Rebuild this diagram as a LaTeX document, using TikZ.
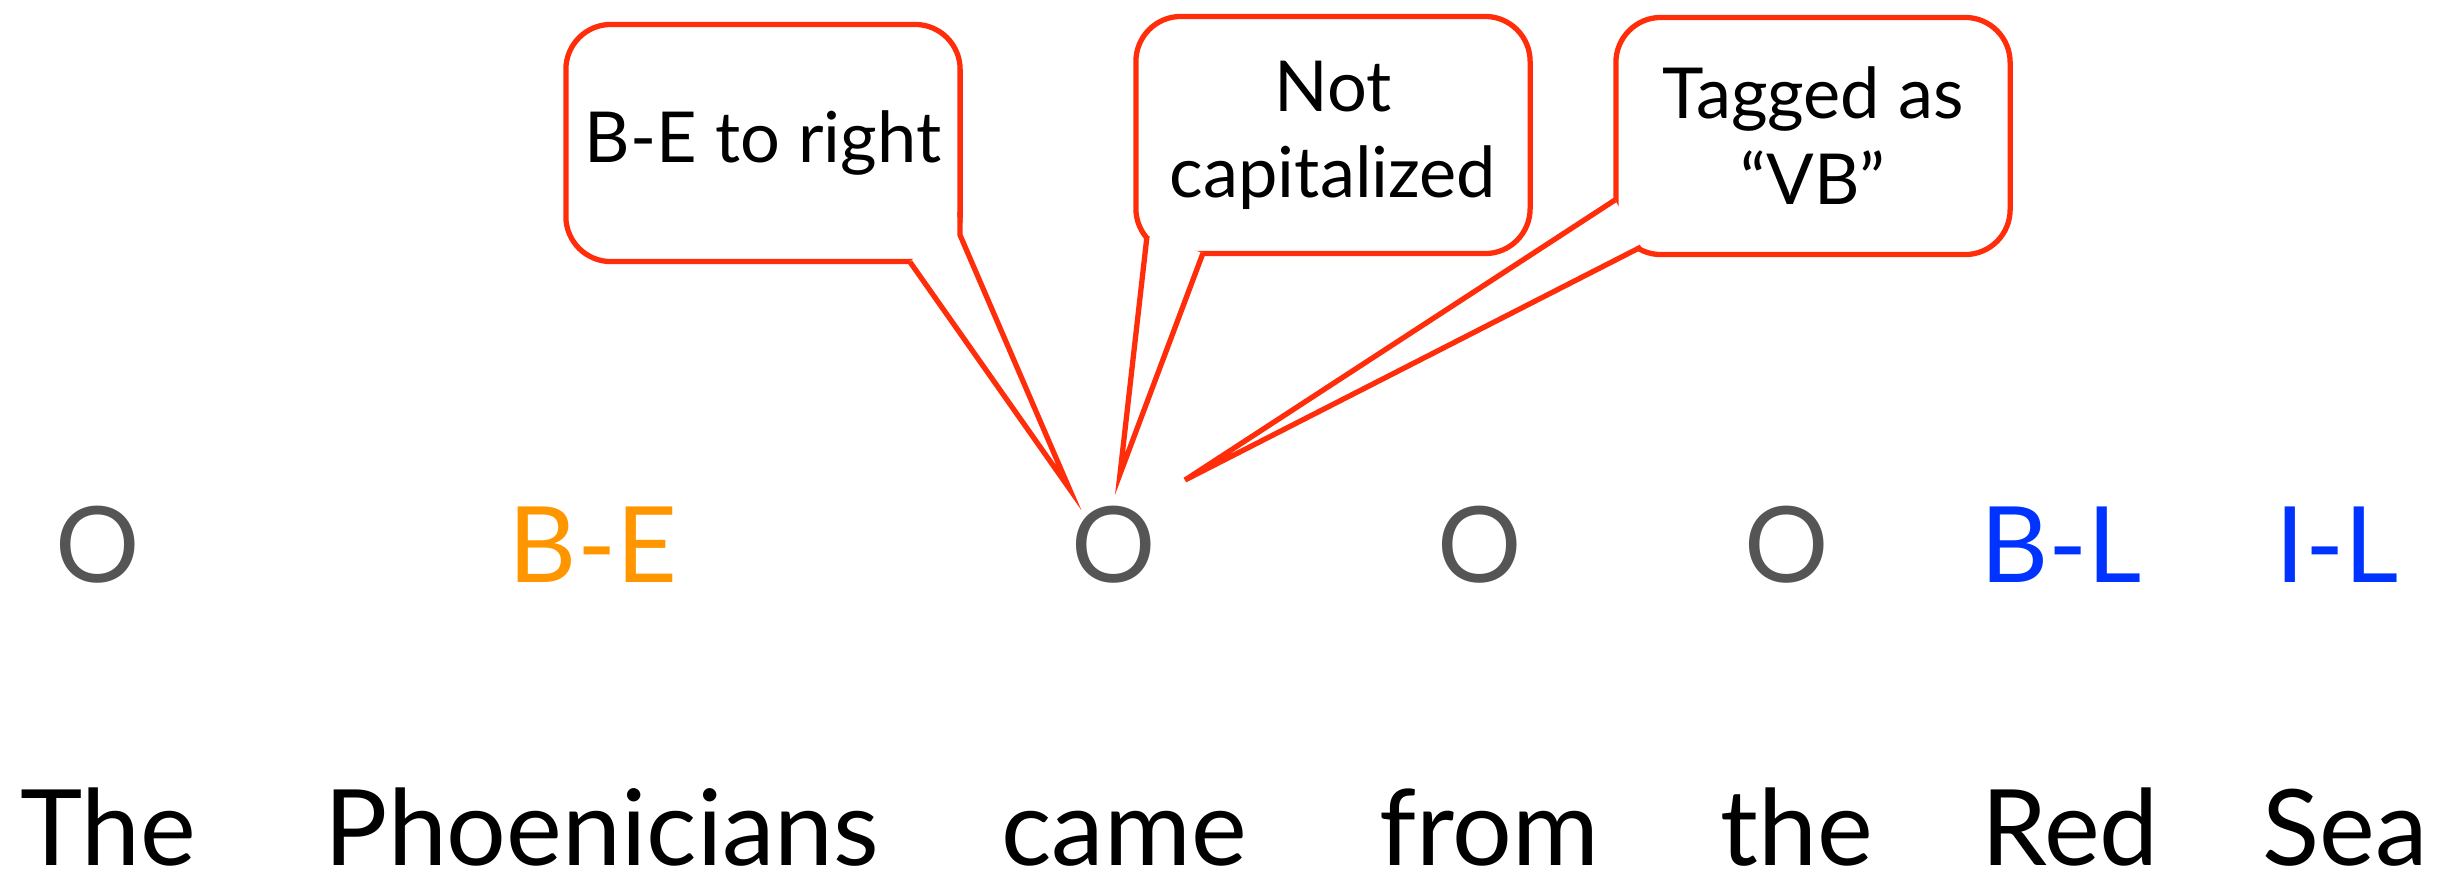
\documentclass[tikz,border=0pt]{standalone}
\usepackage{fontspec}
\setmainfont{Lato}
\usetikzlibrary{calc}
\definecolor{TagGray}{RGB}{85,85,85}
\definecolor{EntOrange}{RGB}{255,150,0}
\definecolor{LocBlue}{RGB}{0,51,255}
\definecolor{NoteRed}{RGB}{255,45,10}

\begin{document}
\begin{tikzpicture}[x=0.01cm,y=-0.01cm,
  word/.style={anchor=base,inner sep=0pt,font=\fontsize{30}{36}\selectfont},
  tag/.style={anchor=base,inner sep=0pt,font=\fontsize{30}{36}\selectfont},
  note/.style={draw=NoteRed,line width=1.5pt,fill=white,rounded corners=12.8pt,
    minimum width=3.94cm,minimum height=2.37cm,align=center,
    font=\fontsize{20}{24.5}\selectfont},
  tail/.style={draw=NoteRed,line width=1.5pt,line join=miter}]
\useasboundingbox (0,0) rectangle (2452,872);

% sentence
\node[word] (w1) at (108,865) {The};
\node[word] (w2) at (602,865) {Phoenicians};
\node[word] (w3) at (1124,865) {came};
\node[word] (w4) at (1489,865) {from};
\node[word] (w5) at (1797,865) {the};
\node[word] (w6) at (2070,865) {Red};
\node[word] (w7) at (2345,865) {Sea};

% labels
\node[tag,TagGray] (t1) at (98,582) {O};
\node[tag,EntOrange] (t2) at (593,582) {B-E};
\node[tag,TagGray] (t3) at (1114,582) {O};
\node[tag,TagGray] (t4) at (1480,582) {O};
\node[tag,TagGray] (t5) at (1787,582) {O};
\node[tag,LocBlue] (t6) at (2061,582) {B-L};
\node[tag,LocBlue] (t7) at (2337,582) {I-L};

% feature boxes
\node[note] (n1) at (763,143) {B-E to right};
\node[note] (n2) at (1333,135) {Not\\capitalized};
\node[note] (n3) at (1813,136) {Tagged as\\``VB''};

\coordinate (tipA) at (1069,488);
\coordinate (tipB) at (1120,474);
\coordinate (tipC) at (1185,480);

\fill[white] (910,262) -- (tipA) -- (960,235) -- (960,215) -- cycle;
\draw[tail] (910,262) -- (tipA) -- (960,235) -- (960,212);

\fill[white] (1147,236) -- (tipB) -- (1203,253) -- cycle;
\draw[tail] (1147,236) -- (tipB) -- (1203,253);

\fill[white] (1615,200) -- (tipC) -- (1641,247) -- cycle;
\draw[tail] (1615,200) -- (tipC) -- (1641,247);

\end{tikzpicture}
\end{document}
